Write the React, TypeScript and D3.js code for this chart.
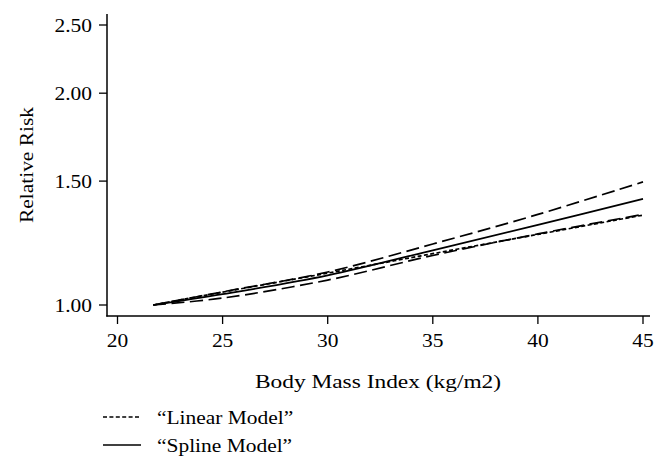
import React from "react";
import * as d3 from "d3";

const bmi = [21.7, 25, 30, 35, 40, 45];
const linearRR = [1.0, 1.043, 1.11, 1.183, 1.26, 1.342];
const splineRR = [1.0, 1.036, 1.102, 1.196, 1.3, 1.415];
const upperRR = [1.0, 1.044, 1.114, 1.221, 1.345, 1.496];
const lowerRR = [1.0, 1.023, 1.085, 1.176, 1.262, 1.345];

const xTicks = [20, 25, 30, 35, 40, 45];
const yTicks = [1.0, 1.5, 2.0, 2.5];
const legendItems = ["“Linear Model”", "“Spline Model”"];

const FONT = "'Liberation Serif', 'Times New Roman', serif";
const FS = 19.5;
const SX = 1.1;

function T({ x, y, anchor, rotate, sx, children }: { x: number; y: number; anchor?: string; rotate?: number; sx?: number; children: React.ReactNode }) {
  return (
    <text
      transform={`translate(${x},${y})${rotate ? ` rotate(${rotate})` : ""} scale(${sx || SX},1)`}
      textAnchor={anchor || "start"}
      fontFamily={FONT}
      fontSize={FS}
      fill="#000"
    >
      {children}
    </text>
  );
}

export default function App() {
  const x = d3.scaleLinear().domain([20, 45]).range([117.5, 643]);
  const y = d3.scaleLog().domain([1, 2.5]).range([305, 25]);

  const line = d3
    .line<[number, number]>()
    .x((d) => x(d[0]))
    .y((d) => y(d[1]))
    .curve(d3.curveCatmullRom.alpha(0.5));

  const series = [
    { vals: upperRR, dash: "13,5.5" },
    { vals: lowerRR, dash: "13,5.5" },
    { vals: splineRR, dash: null },
    { vals: linearRR, dash: "4,2.4" },
  ];

  return (
    <svg width={669} height={473} style={{ position: "absolute", left: 0, top: 0, background: "#fff" }}>
      <rect width={669} height={473} fill="#fff" />
      <line x1={107} y1={14} x2={107} y2={316.5} stroke="#000" strokeWidth={1.5} />
      <line x1={106.25} y1={316} x2={650} y2={316} stroke="#000" strokeWidth={1.5} />
      {yTicks.map((t) => (
        <g key={t}>
          <line x1={99} x2={107} y1={y(t)} y2={y(t)} stroke="#000" strokeWidth={1.3} />
          <T x={92} y={y(t) + 6.5} anchor="end">
            {t.toFixed(2)}
          </T>
        </g>
      ))}
      {xTicks.map((t) => (
        <g key={t}>
          <line x1={x(t)} x2={x(t)} y1={316} y2={324} stroke="#000" strokeWidth={1.3} />
          <T x={x(t)} y={347} anchor="middle">
            {t}
          </T>
        </g>
      ))}
      <T x={33} y={165} anchor="middle" rotate={-90}>
        Relative Risk
      </T>
      <T x={378} y={388} anchor="middle" sx={1.2}>
        Body Mass Index (kg/m2)
      </T>
      {series.map((s, i) => (
        <path
          key={i}
          d={line(bmi.map((b, j) => [b, s.vals[j]] as [number, number])) || ""}
          fill="none"
          stroke="#000"
          strokeWidth={1.7}
          strokeDasharray={s.dash || undefined}
        />
      ))}
      {legendItems.map((lab, i) => {
        const ly = 417 + i * 28;
        return (
          <g key={lab}>
            <line
              x1={103}
              x2={141}
              y1={ly}
              y2={ly}
              stroke="#000"
              strokeWidth={1.4}
              strokeDasharray={i === 0 ? "4,2.4" : undefined}
            />
            <T x={157} y={ly + 6.5}>
              {lab}
            </T>
          </g>
        );
      })}
    </svg>
  );
}
